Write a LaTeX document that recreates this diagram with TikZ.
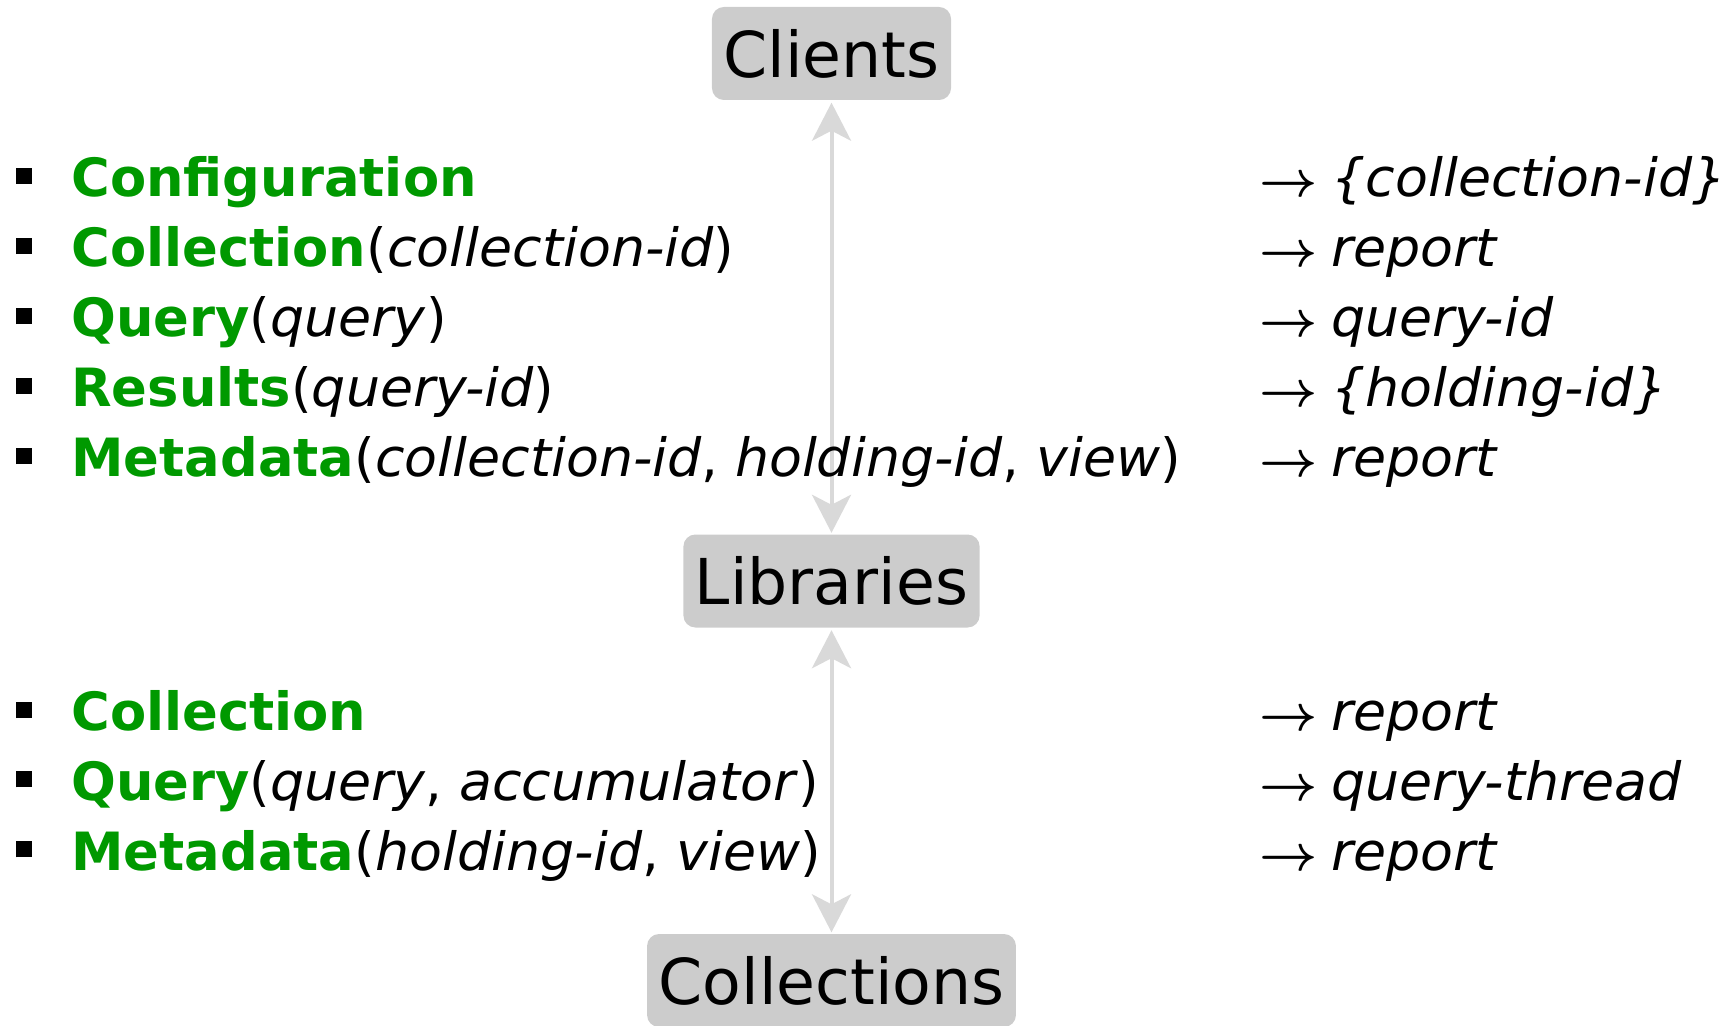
\documentclass[tikz,border=0pt]{standalone}
\usepackage{fontspec}
\setmainfont{DejaVu Sans}[ItalicFeatures={FakeStretch=1.02}]
\usetikzlibrary{arrows.meta}
\definecolor{verde}{RGB}{0,153,0}
\definecolor{grigio}{RGB}{204,204,204}
\definecolor{grigiochiaro}{RGB}{217,217,217}
\newcommand{\blt}{\makebox[0.557cm][l]{\rule[0.127cm]{0.16cm}{0.16cm}}}
\newcommand{\fn}[1]{\textcolor{verde}{\textbf{#1}}}
\newcommand{\ra}{{\boldmath$\rightarrow$}\hspace{0.135cm}}
\tikzset{
>=Stealth,
livello/.style={fill=grigio,rounded corners=0.12cm,minimum height=0.93cm,inner xsep=0.115cm,inner ysep=0pt,font=\fontsize{18}{21}\selectfont},
voce/.style={anchor=base west,inner sep=0pt,font=\fontsize{15}{18}\selectfont},
freccia/.style={{Stealth[length=0.38cm,width=0.39cm,inset=0.1cm]}-{Stealth[length=0.38cm,width=0.39cm,inset=0.1cm]},color=grigiochiaro,line width=0.04cm,shorten >=0.01cm,shorten <=0.02cm}}

\begin{document}
\begin{tikzpicture}

\useasboundingbox (0,0) rectangle (17.3,-10.25);
\node[livello] (cli) at (8.315,-0.535) {Clients};
\node[livello] (lib) at (8.315,-5.81) {Libraries};
\node[livello] (col) at (8.315,-9.805) {Collections};

\path[freccia] (cli) edge (lib);
\path[freccia] (lib) edge (col);

% clients -> libraries
\node[voce] (a1) at (0.15,-1.967) {\blt\fn{Configuration}};
\node[voce] (a2) at (0.15,-2.667) {\blt\fn{Collection}(\textit{collection-id})};
\node[voce] (a3) at (0.15,-3.367) {\blt\fn{Query}(\textit{query})};
\node[voce] (a4) at (0.15,-4.067) {\blt\fn{Results}(\textit{query-id})};
\node[voce] (a5) at (0.15,-4.767) {\blt\fn{Metadata}(\textit{collection-id}, \textit{holding-id}, \textit{view})};

\node[voce] (ra1) at (12.59,-1.967) {\ra\textit{\{collection-id\}}};
\node[voce] (ra2) at (12.59,-2.667) {\ra\textit{report}};
\node[voce] (ra3) at (12.59,-3.367) {\ra\textit{query-id}};
\node[voce] (ra4) at (12.59,-4.067) {\ra\textit{\{holding-id\}}};
\node[voce] (ra5) at (12.59,-4.767) {\ra\textit{report}};

% libraries -> collections
\node[voce] (b1) at (0.15,-7.307) {\blt\fn{Collection}};
\node[voce] (b2) at (0.15,-8.0) {\blt\fn{Query}(\textit{query}, \textit{accumulator})};
\node[voce] (b3) at (0.15,-8.7) {\blt\fn{Metadata}(\textit{holding-id}, \textit{view})};

\node[voce] (rb1) at (12.59,-7.307) {\ra\textit{report}};
\node[voce] (rb2) at (12.59,-8.0) {\ra\textit{query-thread}};
\node[voce] (rb3) at (12.59,-8.7) {\ra\textit{report}};

\end{tikzpicture}
\end{document}
